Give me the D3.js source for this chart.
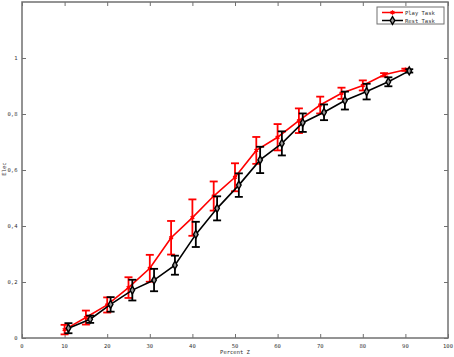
<!DOCTYPE html>
<html><head><meta charset="utf-8">
<script src="https://cdn.jsdelivr.net/npm/d3@7/dist/d3.min.js"></script>
<style>body{margin:0;background:#fff}svg{display:block}text{font-family:"DejaVu Sans Mono",monospace;}</style>
</head><body><div id="c"></div>
<script>
const playX = [10,15,20,25,30,35,40,45,50,55,60,65,70,75,80,85,90];
const playY = [0.03,0.073,0.118,0.18,0.249,0.358,0.43,0.507,0.574,0.67,0.717,0.776,0.832,0.874,0.902,0.94,0.958];
const playErr = [0.017,0.025,0.027,0.037,0.048,0.06,0.065,0.052,0.05,0.048,0.047,0.044,0.03,0.02,0.018,0.006,0.004];
const restX = [10.9,16,20.8,25.9,31,35.9,40.8,45.8,50.9,55.9,61,65.9,70.9,75.8,80.9,86,90.9];
const restY = [0.035,0.067,0.12,0.171,0.207,0.26,0.37,0.463,0.546,0.636,0.695,0.769,0.806,0.848,0.88,0.915,0.954];
const restErr = [0.018,0.013,0.026,0.037,0.04,0.034,0.045,0.043,0.042,0.047,0.043,0.033,0.028,0.032,0.028,0.016,0.006];
const xTicks = [0,10,20,30,40,50,60,70,80,90,100];
const yTicks = [0,0.2,0.4,0.6,0.8,1];
const yTickLabels = ["0","0,2","0,4","0,6","0,8","1"];
const seriesNames = ["Play Task","Rest Task"];
const seriesColors = ["#ff0000","#000000"];

const W=454,H=357;
const svg=d3.select("#c").append("svg").attr("width",W).attr("height",H);
const L=22,R=448,T=2,B=338;
const x=d3.scaleLinear().domain([0,100]).range([L,R]);
const y=d3.scaleLinear().domain([0,1.2]).range([B,T]);

const axisCol="#707070";
const gB=svg.append("g").attr("transform",`translate(0,${B})`)
  .call(d3.axisTop(x).tickValues(xTicks).tickSize(4).tickFormat(""));
const gT=svg.append("g").attr("transform",`translate(0,${T})`)
  .call(d3.axisBottom(x).tickValues(xTicks).tickSize(4).tickFormat(""));
const gL=svg.append("g").attr("transform",`translate(${L},0)`)
  .call(d3.axisRight(y).tickValues(yTicks).tickSize(4).tickFormat(""));
const gR=svg.append("g").attr("transform",`translate(${R},0)`)
  .call(d3.axisLeft(y).tickValues(yTicks).tickSize(4).tickFormat(""));
[gB,gT,gL,gR].forEach(g=>{g.select(".domain").remove();g.selectAll("line").attr("stroke",axisCol).attr("stroke-width",1);});

svg.append("g").selectAll("text").data(xTicks).join("text")
  .attr("x",d=>x(d)).attr("y",348).attr("text-anchor","middle")
  .attr("font-size",5.5).attr("fill","#333").text(d=>d);
svg.append("g").selectAll("text").data(yTicks).join("text")
  .attr("x",L-4.5).attr("y",d=>y(d)+2).attr("text-anchor","end")
  .attr("font-size",5.5).attr("fill","#333").text((d,i)=>yTickLabels[i]);

svg.append("rect").attr("x",L).attr("y",T).attr("width",R-L).attr("height",B-T)
  .attr("fill","none").attr("stroke",axisCol).attr("stroke-width",1.5);

svg.append("text").attr("x",235).attr("y",354).attr("text-anchor","middle")
  .attr("font-size",5.5).attr("fill","#333").text("Percent Z");
svg.append("text").attr("transform","translate(6,169) rotate(-90)").attr("text-anchor","middle")
  .attr("font-size",5.5).attr("fill","#333").text("Elec");

const series=[
  {xs:playX,ys:playY,es:playErr,color:seriesColors[0],marker:"star"},
  {xs:restX,ys:restY,es:restErr,color:seriesColors[1],marker:"diamond"}
];
function drawMarker(g,type,cx,cy,color){
  if(type==="star"){
    g.append("path").attr("d",d3.symbol().type(d3.symbolAsterisk).size(14)()).attr("transform",`translate(${cx},${cy})`)
      .attr("stroke",color).attr("stroke-width",1.3).attr("fill","none");
    g.append("circle").attr("cx",cx).attr("cy",cy).attr("r",1.3).attr("fill",color);
  } else {
    g.append("path").attr("d",d3.symbol().type(d3.symbolDiamond).size(18)()).attr("transform",`translate(${cx},${cy})`)
      .attr("stroke",color).attr("stroke-width",1.4).attr("fill","#999");
  }
}
series.forEach(s=>{
  const g=svg.append("g");
  const pts=s.xs.map((v,i)=>[v,s.ys[i],s.es[i]]);
  g.append("path").datum(pts).attr("fill","none").attr("stroke",s.color).attr("stroke-width",1.6)
    .attr("d",d3.line().x(d=>x(d[0])).y(d=>y(d[1])));
  pts.forEach(p=>{
    const cx=x(p[0]);
    const y1=y(p[1]+p[2]),y2=y(p[1]-p[2]);
    g.append("line").attr("x1",cx).attr("x2",cx).attr("y1",y1).attr("y2",y2).attr("stroke",s.color).attr("stroke-width",1.8);
    g.append("line").attr("x1",cx-4).attr("x2",cx+4).attr("y1",y1).attr("y2",y1).attr("stroke",s.color).attr("stroke-width",1.8);
    g.append("line").attr("x1",cx-4).attr("x2",cx+4).attr("y1",y2).attr("y2",y2).attr("stroke",s.color).attr("stroke-width",1.8);
    drawMarker(g,s.marker,cx,y(p[1]),s.color);
  });
});

const lg=svg.append("g");
lg.append("rect").attr("x",377).attr("y",7).attr("width",67).attr("height",17)
  .attr("fill","#fff").attr("stroke",axisCol).attr("stroke-width",1);
seriesNames.forEach((n,i)=>{
  const yy=12.5+i*8;
  lg.append("line").attr("x1",382).attr("x2",403).attr("y1",yy).attr("y2",yy).attr("stroke",seriesColors[i]).attr("stroke-width",1.5);
  drawMarker(lg,series[i].marker,392.5,yy,seriesColors[i]);
  lg.append("text").attr("x",405).attr("y",yy+2).attr("font-size",5.5).attr("fill","#333").text(n);
});
</script></body></html>
